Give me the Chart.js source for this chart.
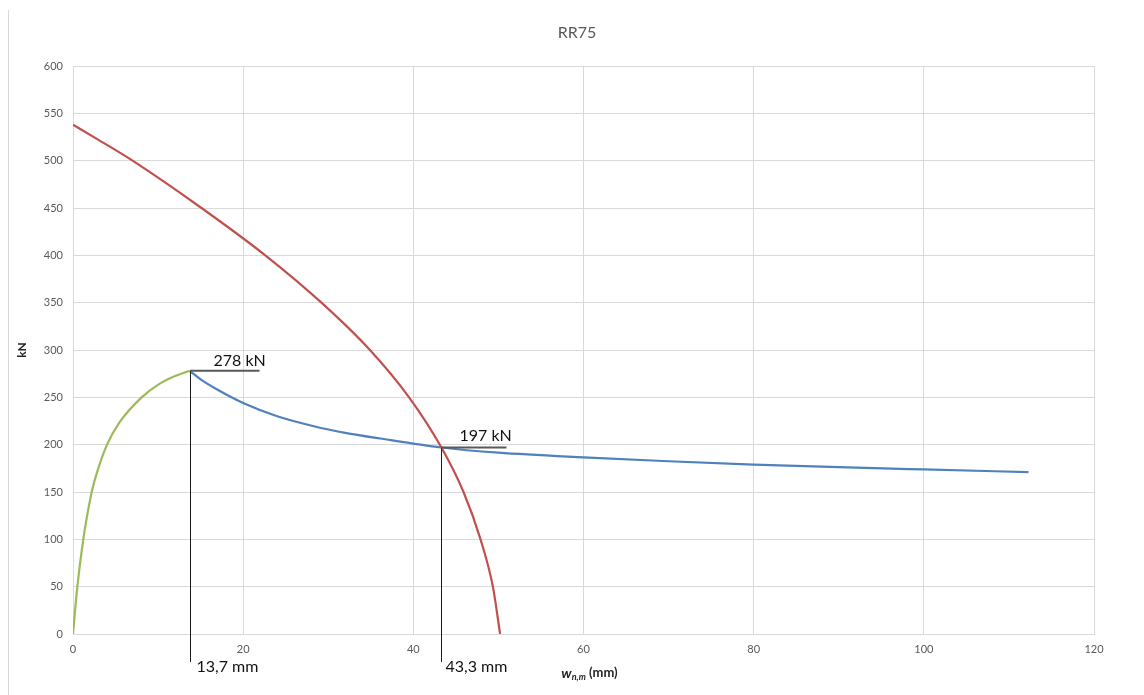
<!DOCTYPE html>
<html>
<head>
<meta charset="utf-8">
<title>RR75</title>
<script src="https://cdn.jsdelivr.net/npm/chart.js@4/dist/chart.umd.min.js"></script>
<style>
  html, body { margin: 0; padding: 0; background: #ffffff; }
  #wrap { position: relative; width: 1144px; height: 695px; }
</style>
</head>
<body>
<div id="wrap"><canvas id="chart"></canvas></div>
<script>
// Capacity curve (red): load in kN against displacement in mm
const capacityX = [0, 3, 7.0, 15.1, 22.6, 29.2, 34.9, 39.5, 43.3, 45.9, 47.9, 49.35, 50.2];
const capacityY = [538, 522, 500, 450, 400, 350, 300, 250, 197, 150, 100, 50, 0];

// Demand curve, descending branch after the peak (blue)
const demandX = [13.7, 15, 17, 20, 24, 28.3, 32, 36.1, 43.3, 50, 60, 70, 80, 90, 100, 112.3];
const demandY = [278, 269, 258, 244, 230, 219.5, 212.5, 206.5, 197, 191.5, 186.5, 182.5, 179, 176.2, 173.8, 171];

// Demand curve, rising branch up to the peak (green)
const riseX = [0, 0.51, 1.21, 2.2, 2.8, 4.0, 5.5, 8.07, 10.2, 12, 13.7];
const riseY = [0, 50, 100, 150, 170, 200, 224, 250, 264.5, 272.6, 278];

// Marked points: peak of the demand curve and intersection with capacity
const markX = [13.7, 43.3];
const markY = [278, 197];

// Axis ticks
const xTicks = [0, 20, 40, 60, 80, 100, 120];
const yTicks = [0, 50, 100, 150, 200, 250, 300, 350, 400, 450, 500, 550, 600];

const FONT = 'Lato, "Open Sans", "Liberation Sans", sans-serif';
const toPoints = (xs, ys) => xs.map((x, i) => ({ x: x, y: ys[i] }));
const fmt = v => String(v).replace('.', ',');

// label offsets for each marked point (pixels)
const markStyle = [
  { hLen: 69, kx: 23, ky: -10, mx: 6 },
  { hLen: 65, kx: 18, ky: -12, mx: 4 }
];

const extras = {
  id: 'extras',
  beforeDraw(chart) {
    const ctx = chart.ctx;
    ctx.save();
    // outer frame edge
    ctx.strokeStyle = '#d9d9d9';
    ctx.lineWidth = 1;
    ctx.beginPath();
    ctx.moveTo(8.5, 10);
    ctx.lineTo(8.5, chart.height);
    ctx.stroke();
    // chart title
    ctx.fillStyle = '#595959';
    ctx.font = '16px ' + FONT;
    ctx.textAlign = 'center';
    ctx.textBaseline = 'middle';
    ctx.fillText('RR75', chart.width / 2 + 5, 33);
    ctx.restore();
  },
  afterDatasetsDraw(chart) {
    const ctx = chart.ctx;
    const xs = chart.scales.x, ys = chart.scales.y;
    ctx.save();
    markX.forEach((mx, i) => {
      const st = markStyle[i];
      const px = Math.round(xs.getPixelForValue(mx)) + 0.5;
      const py = ys.getPixelForValue(markY[i]);
      // drop line to below the axis
      ctx.strokeStyle = '#1a1a1a';
      ctx.lineWidth = 1;
      ctx.beginPath();
      ctx.moveTo(px, py);
      ctx.lineTo(px, ys.bottom + 28);
      ctx.stroke();
      // leader line for the load value
      ctx.strokeStyle = '#595959';
      ctx.lineWidth = 2;
      ctx.beginPath();
      ctx.moveTo(px - 0.5, py);
      ctx.lineTo(px + st.hLen, py);
      ctx.stroke();
      ctx.fillStyle = '#111111';
      ctx.font = '16px ' + FONT;
      ctx.textAlign = 'left';
      ctx.textBaseline = 'middle';
      ctx.fillText(markY[i] + ' kN', px + st.kx, py + st.ky);
      ctx.fillText(fmt(mx) + ' mm', px + st.mx, ys.bottom + 33);
    });
    ctx.restore();
  },
  afterDraw(chart) {
    // x axis title: w with subscript n,m, then unit
    const ctx = chart.ctx;
    const area = chart.chartArea;
    const y = 673;
    ctx.save();
    ctx.fillStyle = '#262626';
    ctx.textBaseline = 'middle';
    ctx.textAlign = 'left';
    const fMain = 'italic bold 14px ' + FONT;
    const fSub = 'italic bold 9px ' + FONT;
    const fUnit = 'bold 13px ' + FONT;
    ctx.font = fMain; const w1 = ctx.measureText('w').width;
    ctx.font = fSub; const w2 = ctx.measureText('n,m').width;
    ctx.font = fUnit; const w3 = ctx.measureText(' (mm)').width;
    let x = (area.left + area.right) / 2 + 6 - (w1 + w2 + w3) / 2;
    ctx.font = fMain; ctx.fillText('w', x, y); x += w1;
    ctx.font = fSub; ctx.fillText('n,m', x, y + 4); x += w2;
    ctx.font = fUnit; ctx.fillText(' (mm)', x, y);
    ctx.restore();
  }
};

const lineDs = (xs, ys, color) => ({
  data: toPoints(xs, ys),
  borderColor: color,
  backgroundColor: color,
  borderWidth: 2.2,
  pointRadius: 0,
  fill: false,
  cubicInterpolationMode: 'monotone'
});

new Chart(document.getElementById('chart'), {
  type: 'line',
  data: {
    datasets: [
      lineDs(capacityX, capacityY, '#C0504D'),
      lineDs(riseX, riseY, '#9BBB59'),
      lineDs(demandX, demandY, '#4F81BD')
    ]
  },
  options: {
    responsive: true,
    maintainAspectRatio: false,
    animation: false,
    layout: { padding: { left: 0, right: 50, top: 66, bottom: 0 } },
    plugins: {
      legend: { display: false },
      tooltip: { enabled: false },
      title: { display: false }
    },
    scales: {
      x: {
        type: 'linear',
        min: xTicks[0],
        max: xTicks[xTicks.length - 1],
        afterBuildTicks: s => { s.ticks = xTicks.map(v => ({ value: v })); },
        ticks: { color: '#595959', font: { family: FONT, size: 11 }, padding: 9, maxRotation: 0 },
        grid: { color: '#d9d9d9', drawTicks: false },
        border: { color: '#d9d9d9' },
        afterFit: s => { s.height = 61; }
      },
      y: {
        type: 'linear',
        min: yTicks[0],
        max: yTicks[yTicks.length - 1],
        afterBuildTicks: s => { s.ticks = yTicks.map(v => ({ value: v })); },
        ticks: { color: '#595959', font: { family: FONT, size: 11 }, padding: 10 },
        grid: { color: '#d9d9d9', drawTicks: false },
        border: { color: '#d9d9d9' },
        title: {
          display: true,
          text: 'kN',
          color: '#262626',
          font: { family: FONT, size: 12, weight: 'bold' },
          padding: { top: 15, bottom: 0 }
        },
        afterFit: s => { s.width = 73; }
      }
    }
  },
  plugins: [extras]
});
</script>
</body>
</html>
